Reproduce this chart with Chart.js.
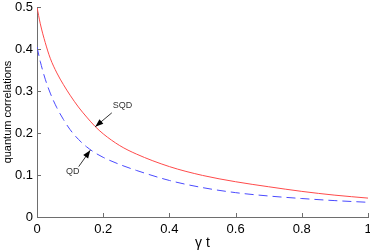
<!DOCTYPE html>
<html>
<head>
<meta charset="utf-8">
<script src="https://cdn.jsdelivr.net/npm/chart.js@4/dist/chart.umd.min.js"></script>
<style>
html,body{margin:0;padding:0;background:#fff;}
#wrap{width:370px;height:250px;}
</style>
</head>
<body>
<div id="wrap"><canvas id="c" width="370" height="250"></canvas></div>
<script>
// ---- data ----
const tValues   = [0, 0.01, 0.025, 0.04, 0.06, 0.08, 0.1, 0.125, 0.15, 0.175, 0.2, 0.25, 0.3, 0.4, 0.5, 0.6, 0.7, 0.8, 0.9, 1.0];
const sqdValues = [0.5, 0.46, 0.415, 0.378, 0.343, 0.315, 0.29, 0.262, 0.238, 0.216, 0.198, 0.17, 0.15, 0.12, 0.099, 0.084, 0.072, 0.061, 0.052, 0.045];
const qdValues  = [0.405, 0.37, 0.328, 0.295, 0.26, 0.232, 0.208, 0.185, 0.167, 0.153, 0.142, 0.125, 0.111, 0.087, 0.07, 0.058, 0.05, 0.044, 0.039, 0.035];
const xTickLabels = ['0', '0.2', '0.4', '0.6', '0.8', '1'];
const yTickLabels = ['0', '0.1', '0.2', '0.3', '0.4', '0.5'];
const seriesNames = ['SQD', 'QD'];
const xTitle = 'γ t';
const yTitle = 'quantum correlations';
// annotation arrows (data coordinates): label, text pos, tail, tip
const notes = [
  {label: 'SQD', text: [0.258, 0.265], tail: [0.226, 0.248], tip: [0.176, 0.215]},
  {label: 'QD',  text: [0.108, 0.108], tail: [0.126, 0.12],  tip: [0.161, 0.159]}
];

const axisColor = '#6e6e6e';
const tickFont = {family: 'Liberation Sans, Arial, sans-serif', size: 13};

const ticksAndNotes = {
  id: 'ticksAndNotes',
  afterDraw(chart) {
    const ctx = chart.ctx, xs = chart.scales.x, ys = chart.scales.y;
    const a = chart.chartArea;
    ctx.save();
    ctx.strokeStyle = axisColor;
    ctx.lineWidth = 1;
    xs.ticks.forEach(t => {
      const px = Math.round(xs.getPixelForValue(t.value)) + 0.5;
      ctx.beginPath(); ctx.moveTo(px, a.bottom); ctx.lineTo(px, a.bottom - 4); ctx.stroke();
    });
    ys.ticks.forEach(t => {
      const py = Math.round(ys.getPixelForValue(t.value)) + 0.5;
      ctx.beginPath(); ctx.moveTo(a.left, py); ctx.lineTo(a.left + 4, py); ctx.stroke();
    });
    // annotations
    notes.forEach(n => {
      const tx = xs.getPixelForValue(n.tail[0]), ty = ys.getPixelForValue(n.tail[1]);
      const hx = xs.getPixelForValue(n.tip[0]), hy = ys.getPixelForValue(n.tip[1]);
      ctx.strokeStyle = '#000'; ctx.fillStyle = '#000'; ctx.lineWidth = 0.8;
      ctx.beginPath(); ctx.moveTo(tx, ty); ctx.lineTo(hx, hy); ctx.stroke();
      const ang = Math.atan2(hy - ty, hx - tx), L = 8, W = 3;
      const bx = hx - L * Math.cos(ang), by = hy - L * Math.sin(ang);
      ctx.beginPath();
      ctx.moveTo(hx, hy);
      ctx.lineTo(bx + W * Math.sin(ang), by - W * Math.cos(ang));
      ctx.lineTo(bx - W * Math.sin(ang), by + W * Math.cos(ang));
      ctx.closePath(); ctx.fill();
      ctx.font = '9px "Liberation Sans", Arial, sans-serif';
      ctx.fillStyle = '#333';
      ctx.textAlign = 'center'; ctx.textBaseline = 'middle';
      ctx.fillText(n.label, xs.getPixelForValue(n.text[0]), ys.getPixelForValue(n.text[1]));
    });
    ctx.restore();
  }
};

new Chart(document.getElementById('c'), {
  type: 'line',
  data: {
    datasets: [
      {label: seriesNames[0], data: tValues.map((t, i) => ({x: t, y: sqdValues[i]})),
       borderColor: '#ff4a4a', borderWidth: 1, pointRadius: 0, fill: false, cubicInterpolationMode: 'monotone'},
      {label: seriesNames[1], data: tValues.map((t, i) => ({x: t, y: qdValues[i]})),
       borderColor: '#4a4aff', borderWidth: 1, borderDash: [9, 5], pointRadius: 0, fill: false, cubicInterpolationMode: 'monotone'}
    ]
  },
  options: {
    responsive: false,
    animation: false,
    layout: {padding: {left: 0, right: 2, top: 7, bottom: 0}},
    plugins: {legend: {display: false}, tooltip: {enabled: false}},
    scales: {
      x: {
        type: 'linear', min: 0, max: 1,
        grid: {display: false, drawTicks: false},
        border: {display: true, color: axisColor, width: 1},
        ticks: {stepSize: 0.2, padding: 5, color: '#000', font: tickFont, maxRotation: 0,
                callback: (v) => xTickLabels[Math.round(v / 0.2)]},
        title: {display: true, text: xTitle, color: '#000', padding: {top: 0, bottom: -2},
                font: {family: 'Liberation Sans, Arial, sans-serif', size: 14}},
        afterFit: (s) => { s.height = 33; s.paddingLeft = 0; s.paddingRight = 0; }
      },
      y: {
        min: 0, max: 0.5,
        grid: {display: false, drawTicks: false},
        border: {display: true, color: axisColor, width: 1},
        ticks: {stepSize: 0.1, padding: 4, color: '#000', font: tickFont,
                callback: (v) => yTickLabels[Math.round(v / 0.1)]},
        title: {display: true, text: yTitle, color: '#000', padding: {top: 1, bottom: 0},
                font: {family: 'Liberation Sans, Arial, sans-serif', size: 11}},
        afterFit: (s) => { s.width = 37; s.paddingTop = 0; s.paddingBottom = 0; }
      }
    }
  },
  plugins: [ticksAndNotes]
});
</script>
</body>
</html>
